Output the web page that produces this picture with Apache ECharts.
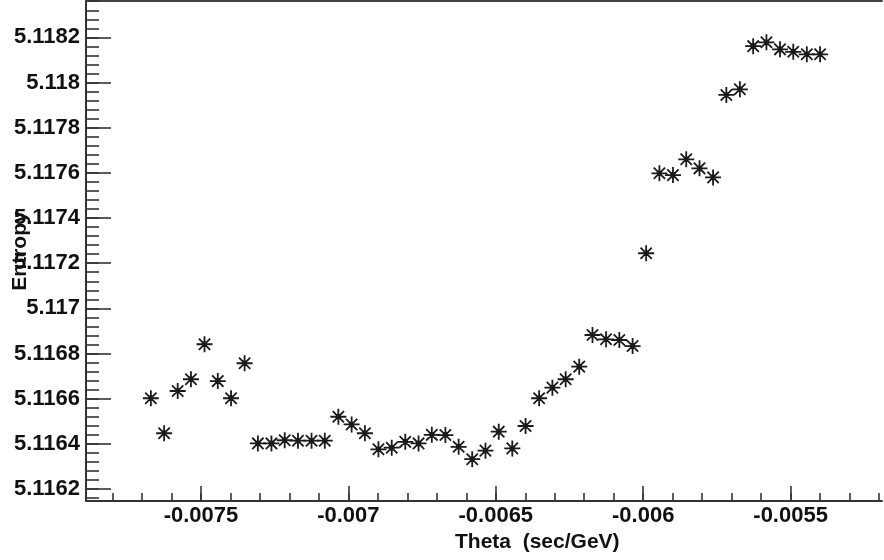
<!DOCTYPE html>
<html>
<head>
<meta charset="utf-8">
<script src="https://cdn.jsdelivr.net/npm/echarts@6/dist/echarts.min.js"></script>
<style>
  html, body { margin: 0; padding: 0; background: #fff; }
  #chart { width: 884px; height: 560px; }
</style>
</head>
<body>
<div id="chart"></div>
<script>
// Scan points: theta (sec/GeV) and the entropy measured at each step
const thetaValues = [
  -0.007670, -0.007625, -0.007579, -0.007534, -0.007488, -0.007443, -0.007398, -0.007352, -0.007307, -0.007261,
  -0.007216, -0.007171, -0.007125, -0.007080, -0.007034, -0.006989, -0.006944, -0.006898, -0.006853, -0.006807,
  -0.006762, -0.006717, -0.006671, -0.006626, -0.006580, -0.006535, -0.006490, -0.006444, -0.006399, -0.006353,
  -0.006308, -0.006263, -0.006217, -0.006172, -0.006126, -0.006081, -0.006036, -0.005990, -0.005945, -0.005899,
  -0.005854, -0.005809, -0.005763, -0.005718, -0.005672, -0.005627, -0.005582, -0.005536, -0.005491, -0.005445,
  -0.005400
];
const entropyValues = [
  5.116602, 5.116447, 5.116634, 5.116686, 5.116841, 5.116678, 5.116602, 5.116757, 5.116402, 5.116402,
  5.116416, 5.116414, 5.116414, 5.116414, 5.116520, 5.116486, 5.116447, 5.116376, 5.116383, 5.116409,
  5.116402, 5.116440, 5.116439, 5.116387, 5.116332, 5.116370, 5.116454, 5.116380, 5.116479, 5.116602,
  5.116649, 5.116686, 5.116742, 5.116882, 5.116863, 5.116860, 5.116833, 5.117244, 5.117598, 5.117590,
  5.117660, 5.117620, 5.117580, 5.117945, 5.117970, 5.118161, 5.118178, 5.118147, 5.118136, 5.118125,
  5.118125
];

// Labelled ticks
const xTickValues = [-0.0075, -0.007, -0.0065, -0.006, -0.0055];
const xTickLabels = ['-0.0075', '-0.007', '-0.0065', '-0.006', '-0.0055'];
const yTickValues = [5.1162, 5.1164, 5.1166, 5.1168, 5.117, 5.1172, 5.1174, 5.1176, 5.1178, 5.118, 5.1182];
const yTickLabels = ['5.1162', '5.1164', '5.1166', '5.1168', '5.117', '5.1172', '5.1174', '5.1176', '5.1178', '5.118', '5.1182'];

// Axis ranges
const xMin = -0.00789, xMax = -0.00519;
const yMin = 5.116147, yMax = 5.118361;

// Minor tick positions: 5 divisions per labelled interval
function minorTicks(start, step, lo, hi, digits) {
  const out = [];
  for (let k = 0; ; k++) {
    const v = +(start + k * step).toFixed(digits);
    if (v > hi) break;
    if (v >= lo) out.push(v);
  }
  return out;
}
const xMinor = minorTicks(-0.0079, 0.0001, xMin, xMax, 5);
const yMinor = minorTicks(5.11612, 0.00004, yMin, yMax, 6);

function labelFor(values, labels) {
  return function (v) {
    for (let i = 0; i < values.length; i++) {
      if (Math.abs(values[i] - v) < 1e-9) return labels[i];
    }
    return '';
  };
}

const FONT = '"Liberation Sans", Arial, Helvetica, sans-serif';
const INK = '#333';

// Eight-armed asterisk with a filled centre dot
const starPath = 'path://M0,-8L0,8M-8,0L8,0M-5.66,-5.66L5.66,5.66M-5.66,5.66L5.66,-5.66' +
  'M-2,0A2,2 0 1,0 2,0A2,2 0 1,0 -2,0Z';

const chart = echarts.init(document.getElementById('chart'), null, { renderer: 'canvas' });

const labelStyle = { fontFamily: FONT, fontWeight: 'bold', fontSize: 22, color: '#111' };

chart.setOption({
  animation: false,
  backgroundColor: '#fff',
  title: {
    text: 'Theta  (sec/GeV)',
    left: 455,
    top: 532,
    padding: 0,
    textStyle: { fontFamily: FONT, fontWeight: 'bold', fontSize: 21, color: '#111' }
  },
  grid: { left: 86, right: 2, top: 1, bottom: 59, containLabel: false, outerBoundsMode: 'none' },
  xAxis: [
    {
      type: 'value', min: xMin, max: xMax, position: 'bottom',
      axisLine: { show: true, onZero: false, lineStyle: { color: INK, width: 2 } },
      axisTick: { show: true, inside: true, length: 15, customValues: xTickValues, lineStyle: { color: INK, width: 1.6 } },
      axisLabel: Object.assign({ customValues: xTickValues, margin: 4, formatter: labelFor(xTickValues, xTickLabels) }, labelStyle),
      splitLine: { show: false }
    },
    {
      type: 'value', min: xMin, max: xMax, position: 'bottom',
      axisLine: { show: false, onZero: false },
      axisTick: { show: true, inside: true, length: 8, customValues: xMinor, lineStyle: { color: INK, width: 1.6 } },
      axisLabel: { show: false },
      splitLine: { show: false }
    },
    {
      type: 'value', min: xMin, max: xMax, position: 'top',
      axisLine: { show: true, onZero: false, lineStyle: { color: '#444', width: 2 } },
      axisTick: { show: false },
      axisLabel: { show: false },
      splitLine: { show: false }
    }
  ],
  yAxis: [
    {
      type: 'value', min: yMin, max: yMax, position: 'left',
      name: 'Entropy', nameLocation: 'middle', nameRotate: 90, nameGap: 55,
      nameMoveOverlap: false,
      nameTextStyle: { fontFamily: FONT, fontWeight: 'bold', fontSize: 21, color: '#111' },
      axisLine: { show: true, onZero: false, lineStyle: { color: INK, width: 2 } },
      axisTick: { show: true, inside: true, length: 25, customValues: yTickValues, lineStyle: { color: INK, width: 1.6 } },
      axisLabel: Object.assign({ customValues: yTickValues, margin: 6, formatter: labelFor(yTickValues, yTickLabels) }, labelStyle),
      splitLine: { show: false }
    },
    {
      type: 'value', min: yMin, max: yMax, position: 'left',
      axisLine: { show: false, onZero: false },
      axisTick: { show: true, inside: true, length: 13, customValues: yMinor, lineStyle: { color: INK, width: 1.6 } },
      axisLabel: { show: false },
      splitLine: { show: false }
    }
  ],
  series: [
    {
      type: 'scatter',
      xAxisIndex: 0,
      yAxisIndex: 0,
      data: thetaValues.map((t, i) => [t, entropyValues[i]]),
      symbol: starPath,
      symbolSize: 16,
      itemStyle: { color: '#000', borderColor: '#1a1a1a', borderWidth: 1.8, opacity: 1 },
      emphasis: { disabled: true },
      silent: true
    }
  ]
});
</script>
</body>
</html>
